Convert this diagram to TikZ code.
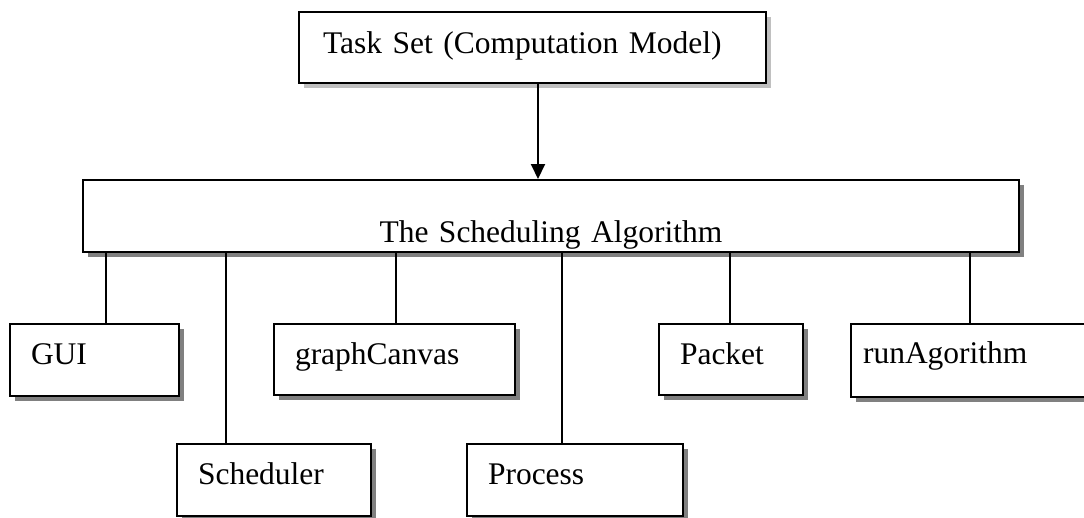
\documentclass[tikz,border=0pt]{standalone}
\usepackage{fontspec}
\setmainfont{Liberation Serif}
\usetikzlibrary{shadows,arrows.meta}
\definecolor{shadowdark}{HTML}{808080}
\definecolor{shadowlight}{HTML}{C0C0C0}
\begin{document}
\begin{tikzpicture}[x=1pt,y=-1pt,
  box/.style={draw, line width=2pt, fill=white, inner ysep=0pt, anchor=north west,
    align=left, font=\fontsize{31.5}{36}\selectfont,
    drop shadow={shadow xshift=5pt, shadow yshift=-5pt, fill=shadowdark, opacity=1}},
  lightbox/.style={box, drop shadow={shadow xshift=5pt, shadow yshift=-5pt, fill=shadowlight, opacity=1}},
  conn/.style={line width=2pt},
  arr/.style={line width=2pt, -{Triangle[length=15pt,width=14pt]}}]
\useasboundingbox (0,0) rectangle (1084,517);
\clip (0,0) rectangle (1084,517);
% top box: 298-765, 11-82
\node[lightbox, inner xsep=24pt, text width=419pt, text height=41pt, text depth=30pt] (task) at (298,11) {Task Set (Computation Model)};
% main box: 82-1018, 179-251
\node[box, inner xsep=0pt, text width=936pt, align=center, text height=62pt, text depth=10pt] (main) at (82,179) {The Scheduling Algorithm};
% children
\node[box, inner xsep=21pt, text width=127pt, text height=40pt, text depth=32pt] (gui) at (9,323) {GUI};
\node[box, inner xsep=21pt, text width=152pt, text height=40pt, text depth=32pt] (sched) at (176,443) {Scheduler};
\node[box, inner xsep=21pt, text width=199pt, text height=40pt, text depth=31pt] (canvas) at (273,323) {graphCanvas};
\node[box, inner xsep=21pt, text width=174pt, text height=40pt, text depth=32pt] (proc) at (466,443) {Process};
\node[box, inner xsep=21pt, text width=102pt, text height=40pt, text depth=31pt] (packet) at (658,323) {Packet};
\node[box, inner xsep=12pt, text width=226pt, text height=39pt, text depth=34pt] (run) at (850,323) {runAgorithm};
% connector positions
\coordinate (xa) at (538,0);
\coordinate (x1) at (106,0);
\coordinate (x2) at (226,0);
\coordinate (x3) at (396,0);
\coordinate (x4) at (562,0);
\coordinate (x5) at (730,0);
\coordinate (x6) at (970,0);
\draw[arr] (task.south -| xa) -- (main.north -| xa);
\draw[conn] (main.south -| x1) -- (gui.north -| x1);
\draw[conn] (main.south -| x2) -- (sched.north -| x2);
\draw[conn] (main.south -| x3) -- (canvas.north -| x3);
\draw[conn] (main.south -| x4) -- (proc.north -| x4);
\draw[conn] (main.south -| x5) -- (packet.north -| x5);
\draw[conn] (main.south -| x6) -- (run.north -| x6);
\end{tikzpicture}
\end{document}
